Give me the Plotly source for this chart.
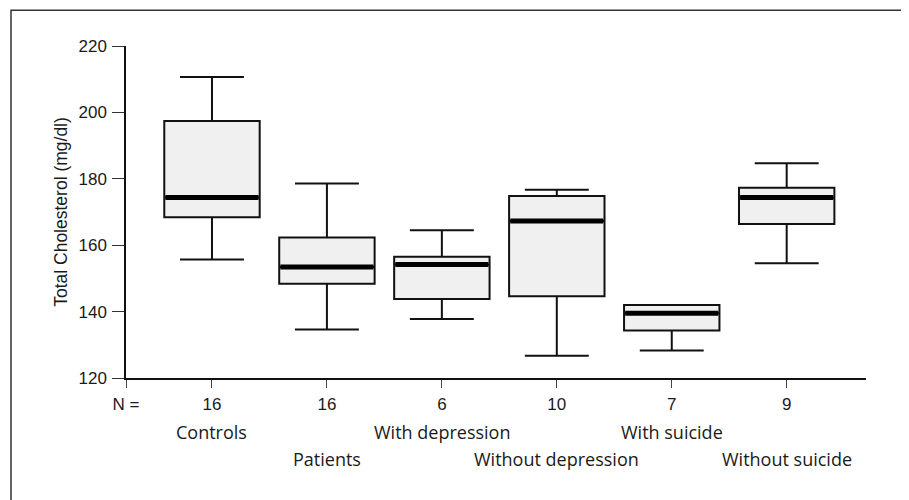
import plotly.graph_objects as go

categories = ["Controls", "Patients", "With depression", "Without depression", "With suicide", "Without suicide"]
n_values = ["16", "16", "6", "10", "7", "9"]
upper_whisker = [210.7, 178.6, 164.5, 176.7, 142.0, 184.7]
q3_values = [197.4, 162.3, 156.5, 174.8, 142.0, 177.3]
median_values = [174.4, 153.4, 154.2, 167.3, 139.5, 174.4]
q1_values = [168.4, 148.4, 143.8, 144.6, 134.3, 166.4]
lower_whisker = [155.7, 134.6, 137.8, 126.7, 128.3, 154.6]
label_row = [0, 1, 0, 1, 0, 1]

positions = list(range(len(categories)))
box_width = 0.83
FONT = "Liberation Sans, Arial, Helvetica, sans-serif"
LABEL_FONT = "Open Sans, Liberation Sans, Arial, sans-serif"

fig = go.Figure()
fig.add_trace(go.Box(
    x=positions, q1=q1_values, median=median_values, q3=q3_values,
    lowerfence=lower_whisker, upperfence=upper_whisker,
    width=box_width, whiskerwidth=0.67,
    fillcolor="#f0f0f0", line=dict(color="#111111", width=2),
    boxpoints=False, showlegend=False,
))

mx, my = [], []
for p, m in zip(positions, median_values):
    mx += [p - box_width / 2 + 0.01, p + box_width / 2 - 0.01, None]
    my += [m, m, None]
fig.add_trace(go.Scatter(x=mx, y=my, mode="lines",
                         line=dict(color="#000000", width=5), showlegend=False,
                         hoverinfo="skip"))

x_left = -0.748
fig.update_xaxes(
    range=[x_left, 5.69], tickmode="array",
    tickvals=[x_left] + positions, ticktext=["N ="] + n_values,
    showline=True, linecolor="#111111", linewidth=1.5,
    ticks="outside", ticklen=8, tickcolor="#444444", tickwidth=1.2,
    showgrid=False, zeroline=False, ticklabelstandoff=2,
    tickfont=dict(family=FONT, size=17, color="#1a1a1a"),
)
fig.update_yaxes(
    range=[120, 220], tickvals=[120, 140, 160, 180, 200, 220],
    showline=True, linecolor="#111111", linewidth=1.5,
    ticks="outside", ticklen=12, tickcolor="#333333", tickwidth=1.2,
    showgrid=False, zeroline=False, ticklabelstandoff=2,
    tickfont=dict(family=FONT, size=17, color="#1a1a1a"),
    title=dict(text="Total Cholesterol (mg/dl)", standoff=6,
               font=dict(family=FONT, size=17.5, color="#1a1a1a")),
)

row_y = [-0.1627, -0.244]
for p, name, r in zip(positions, categories, label_row):
    fig.add_annotation(x=p, y=row_y[r], xref="x", yref="paper", text=name,
                       showarrow=False, yanchor="middle", xanchor="center",
                       font=dict(family=LABEL_FONT, size=18, color="#1a1a1a"))

fig.add_shape(type="path", xref="paper", yref="paper",
              path="M -0.1554,-0.40 L -0.1554,1.108 L 1.05,1.108 L 1.05,-0.40",
              line=dict(color="#333333", width=1.5))

# The page body adds an 8px offset, so the figure is sized to fit the window.
fig.update_layout(
    width=901, height=492,
    margin=dict(l=118, r=43, t=38, b=122, autoexpand=False),
    paper_bgcolor="white", plot_bgcolor="white",
    font=dict(family=FONT),
)

fig.write_html("out.html")
